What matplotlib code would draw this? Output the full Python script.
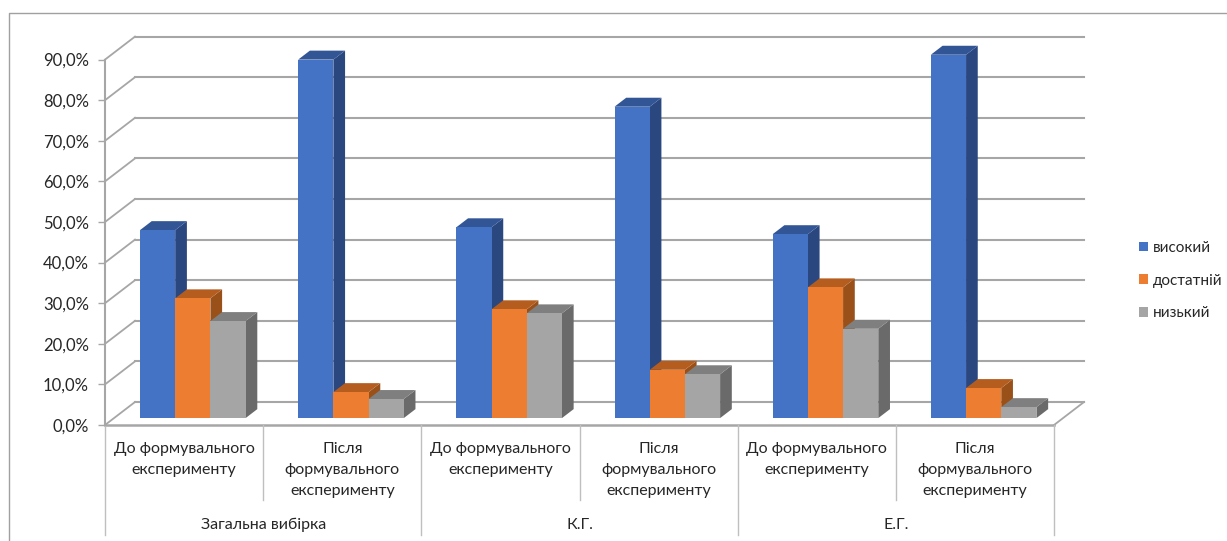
import matplotlib
matplotlib.use("Agg")
from matplotlib import pyplot as plt
from matplotlib.patches import Polygon, Rectangle
from matplotlib.ticker import FuncFormatter

plt.rcParams["font.family"] = ["Lato", "Open Sans", "DejaVu Sans"]

groups = ["Загальна вибірка", "К.Г.", "Е.Г."]
stages = [
    "До формувального\nексперименту",
    "Після\nформувального\nексперименту",
]
series_names = ["високий", "достатній", "низький"]
high = [46.3, 88.3, 47.0, 76.7, 45.3, 89.5]
enough = [29.5, 6.4, 26.8, 11.9, 32.2, 7.4]
low = [23.9, 4.7, 25.8, 10.8, 22.0, 2.7]
y_ticks = [0, 10, 20, 30, 40, 50, 60, 70, 80, 90]

front_colors = ["#4472C4", "#ED7D31", "#A5A5A5"]
side_colors = ["#2A4780", "#9A5119", "#6A6A6A"]
top_colors = ["#325596", "#B55D1F", "#7F7F7F"]
grid_color = "#A6A6A6"
text_color = "#262626"

W, H = 1227, 541
PX_PER_CAT = 158.17
PX_PER_PCT = 4.06
FLOOR_PX = 425

# oblique projection of the floor, in data units
WALL_DX = 30 / PX_PER_CAT
WALL_DY = 23 / PX_PER_PCT
BAR_WIDTH = 35.2 / PX_PER_CAT
BAR_START = 35 / PX_PER_CAT
BAR_NEAR = 0.30
BAR_FAR = 0.69

fig = plt.figure(figsize=(W / 100, H / 100), dpi=100)
ax = fig.add_axes([0, 0, 1, 1])
ax.set_xlim(-105 / PX_PER_CAT, (W - 105) / PX_PER_CAT)
ax.set_ylim((FLOOR_PX - H) / PX_PER_PCT, FLOOR_PX / PX_PER_PCT)

for name in ["top", "right", "bottom"]:
    ax.spines[name].set_visible(False)
ax.spines["left"].set_position(("data", 0))
ax.spines["left"].set_bounds(0, 90)
ax.spines["left"].set_color(grid_color)
ax.spines["left"].set_linewidth(1.5)
ax.set_xticks([])
ax.set_yticks(y_ticks)
ax.yaxis.set_major_formatter(FuncFormatter(lambda v, pos: f"{v:.1f}%".replace(".", ",")))
ax.tick_params(axis="y", length=5, width=1, color=grid_color, labelsize=12,
               labelcolor=text_color, pad=6.6)

# chart area frame, open on the right and bottom
ax.plot([-95.5 / PX_PER_CAT, -95.5 / PX_PER_CAT, (W - 105) / PX_PER_CAT],
        [(FLOOR_PX - H) / PX_PER_PCT, (FLOOR_PX - 12.5) / PX_PER_PCT, (FLOOR_PX - 12.5) / PX_PER_PCT],
        color="#A0A0A0", lw=1, clip_on=False)

# side wall, back wall gridlines and floor
for t in y_ticks:
    ax.plot([0, WALL_DX], [t, t + WALL_DY], color=grid_color, lw=1.3, zorder=1)
    ax.plot([WALL_DX, 6 + WALL_DX], [t + WALL_DY, t + WALL_DY], color=grid_color, lw=1.5, zorder=1)
ax.plot([0, 6], [0, 0], color=grid_color, lw=1.8, zorder=1)
ax.plot([6, 6 + WALL_DX], [0, WALL_DY], color=grid_color, lw=1.3, zorder=1)


def draw_bar(x, value, idx):
    x0 = x
    x1 = x0 + BAR_WIDTH
    y0 = BAR_NEAR * WALL_DY
    y1 = y0 + value
    dx = (BAR_FAR - BAR_NEAR) * WALL_DX
    dy = (BAR_FAR - BAR_NEAR) * WALL_DY
    ax.add_patch(Polygon([(x1, y0), (x1 + dx, y0 + dy), (x1 + dx, y1 + dy), (x1, y1)],
                         facecolor=side_colors[idx], edgecolor="none", zorder=3))
    ax.add_patch(Polygon([(x0, y1), (x1, y1), (x1 + dx, y1 + dy), (x0 + dx, y1 + dy)],
                         facecolor=top_colors[idx], edgecolor="none", zorder=3))
    ax.add_patch(Rectangle((x0, y0), BAR_WIDTH, value,
                           facecolor=front_colors[idx], edgecolor="none", zorder=3))


for cat in range(6):
    for idx, values in enumerate([high, enough, low]):
        draw_bar(cat + BAR_START + idx * BAR_WIDTH, values[cat], idx)

# two level category axis under the floor
stage_bottom = -75 / PX_PER_PCT
group_bottom = -110 / PX_PER_PCT
sep_color = "#BFBFBF"
for cat in range(7):
    bottom = group_bottom if cat % 2 == 0 else stage_bottom
    ax.plot([cat, cat], [0, bottom], color=sep_color, lw=1, zorder=1)
for cat in range(6):
    ax.text(cat + 0.5, -17 / PX_PER_PCT, stages[cat % 2], ha="center", va="top",
            fontsize=11.5, color=text_color, linespacing=1.62)
for g, name in enumerate(groups):
    ax.text(2 * g + 1, -100 / PX_PER_PCT, name, ha="center", va="center",
            fontsize=11.5, color=text_color)

# legend
handles = [Rectangle((0, 0), 1, 1, facecolor=c, edgecolor="none") for c in front_colors]
ax.legend(handles, series_names, loc="upper left", bbox_to_anchor=(1139 / W, 1 - 241 / H),
          frameon=False, fontsize=11, handlelength=0.6, handleheight=0.6,
          handletextpad=0.3, labelspacing=1.22, labelcolor=text_color,
          borderpad=0, borderaxespad=0)

fig.savefig("out.png", dpi=100)
plt.close(fig)
